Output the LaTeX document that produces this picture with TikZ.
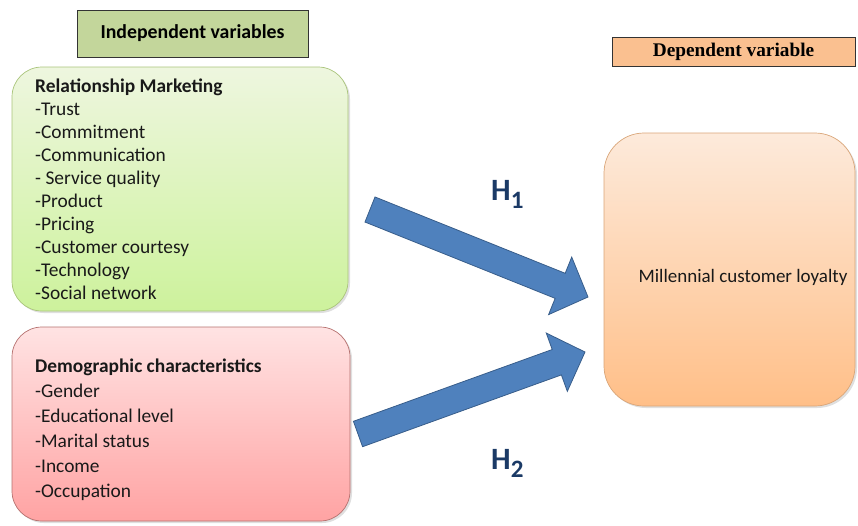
\documentclass[tikz,border=0pt]{standalone}
\usepackage{fontspec}
\setmainfont{Carlito}
\newfontfamily\headserif{Liberation Serif}
\usetikzlibrary{calc,shadows}

\definecolor{indepfill}{HTML}{C3D69B}
\definecolor{depfill}{HTML}{FAC090}
\definecolor{greentop}{HTML}{EEF6DF}
\definecolor{greenbot}{HTML}{CDF29C}
\definecolor{greenline}{HTML}{A9C47A}
\definecolor{redtop}{HTML}{FFE3E3}
\definecolor{redbot}{HTML}{FFA3A3}
\definecolor{redline}{HTML}{B5706E}
\definecolor{orangetop}{HTML}{FDEADB}
\definecolor{orangebot}{HTML}{FFBF88}
\definecolor{orangeline}{HTML}{D9A578}
\definecolor{arrowfill}{HTML}{4F81BD}
\definecolor{arrowline}{HTML}{385D8A}
\definecolor{hypo}{HTML}{1B3A66}

\tikzset{
  header/.style={draw=black!80, line width=0.9pt, inner sep=0pt},
  varbox/.style={rounded corners=#1, line width=0.7pt, inner sep=0pt,
    drop shadow={opacity=0.25, shadow xshift=2pt, shadow yshift=-2pt}},
  listtext/.style={anchor=north west, align=left, inner sep=0pt, text=black!90},
  blockarrow/.style={fill=arrowfill, draw=arrowline, line width=0.8pt, line join=miter},
  hlabel/.style={anchor=base west, inner sep=0pt, text=hypo}
}

\begin{document}
\begin{tikzpicture}[x=1pt, y=-1pt]
\useasboundingbox (0,0) rectangle (858,525);

% column headers
\node[header, fill=indepfill, minimum width=231pt, minimum height=47pt,
      font=\fontsize{19.8}{22}\selectfont\bfseries] (indep) at (192.5,33.5) {Independent variables};
\node[header, fill=depfill, minimum width=243pt, minimum height=29pt,
      font=\headserif\fontsize{19.3}{22}\selectfont\bfseries] (dep) at (733.5,51.5) {Dependent variable};

% variable boxes
\node[varbox=30pt, draw=greenline, top color=greentop, bottom color=greenbot,
      minimum width=336pt, minimum height=244pt] (rm) at (180,189) {};
\node[varbox=30pt, draw=redline, top color=redtop, bottom color=redbot,
      minimum width=338pt, minimum height=194pt] (dc) at (181,424) {};
\node[varbox=40pt, draw=orangeline, top color=orangetop, bottom color=orangebot,
      minimum width=251pt, minimum height=273pt] (loyal) at (729.5,269.5) {};

% box contents
\node[listtext, font=\fontsize{19.4}{23}\selectfont] (rmtext) at (35,79)
  {\textbf{Relationship Marketing}\\-Trust\\-Commitment\\-Communication\\- Service quality\\-Product\\-Pricing\\-Customer courtesy\\-Technology\\-Social network};
\node[listtext, font=\fontsize{19.4}{25}\selectfont] (dctext) at (35,359)
  {\textbf{Demographic characteristics}\\-Gender\\-Educational level\\-Marital status\\-Income\\-Occupation};
\node[inner sep=0pt, font=\fontsize{19}{22}\selectfont, text=black!90] (mcl) at (743,277) {Millennial customer loyalty};

% hypothesis arrows
\coordinate (t1) at (370,209.5);
\coordinate (p1) at (588,297);
\coordinate (b1) at ($(p1)!30pt!(t1)$);
\draw[blockarrow] ($(t1)!13.5pt!90:(p1)$) -- ($(b1)!13.5pt!90:(p1)$) -- ($(b1)!31pt!90:(p1)$)
  -- (p1) -- ($(b1)!31pt!-90:(p1)$) -- ($(b1)!13.5pt!-90:(p1)$) -- ($(t1)!13.5pt!-90:(p1)$) -- cycle;

\coordinate (t2) at (358,434);
\coordinate (p2) at (585,352);
\coordinate (b2) at ($(p2)!30pt!(t2)$);
\draw[blockarrow] ($(t2)!13.5pt!90:(p2)$) -- ($(b2)!13.5pt!90:(p2)$) -- ($(b2)!31pt!90:(p2)$)
  -- (p2) -- ($(b2)!31pt!-90:(p2)$) -- ($(b2)!13.5pt!-90:(p2)$) -- ($(t2)!13.5pt!-90:(p2)$) -- cycle;

% hypothesis labels
\node[hlabel, font=\fontsize{31}{31}\selectfont\bfseries] (h1) at (491,200)
  {H\raisebox{-8pt}{\fontsize{25}{25}\selectfont 1}};
\node[hlabel, font=\fontsize{31}{31}\selectfont\bfseries] (h2) at (491,469)
  {H\raisebox{-8pt}{\fontsize{25}{25}\selectfont 2}};
\end{tikzpicture}
\end{document}
